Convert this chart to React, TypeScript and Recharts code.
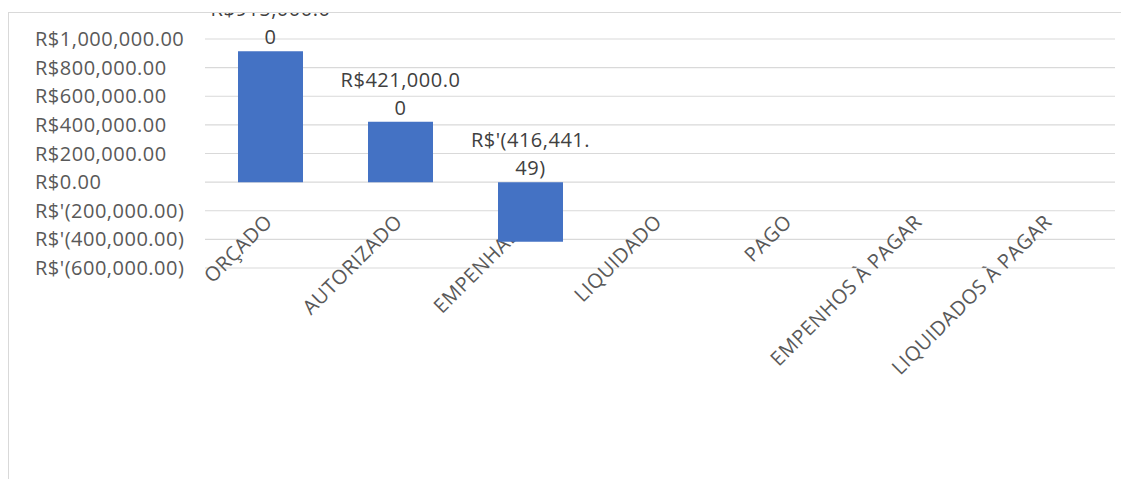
import React from 'react';
import { BarChart, Bar, XAxis, YAxis, CartesianGrid, LabelList } from 'recharts';

const categories = ['ORÇADO', 'AUTORIZADO', 'EMPENHADO', 'LIQUIDADO', 'PAGO', 'EMPENHOS À PAGAR', 'LIQUIDADOS À PAGAR'];
const values: (number | null)[] = [915000, 421000, -416441.49, null, null, null, null];
const yTicks = [-600000, -400000, -200000, 0, 200000, 400000, 600000, 800000, 1000000];

const data = categories.map((name, i) => ({ name, valor: values[i] }));

const FONT = "'Open Sans', sans-serif";
const FONT_SIZE = 20;
const SPACING = 0.5;
const TEXT_COLOR = '#595959';

// chart geometry (svg coords)
const W = 1120;
const H = 466;
const MARGIN = { top: 26, right: 14, left: 0, bottom: 181 };
const X_AXIS_H = 30;
const Y_AXIS_W = 196;
const Y_LABEL_LEFT = 26;
const PLOT_H = H - MARGIN.top - MARGIN.bottom - X_AXIS_H;
const Y_MIN = yTicks[0];
const Y_MAX = yTicks[yTicks.length - 1];
const ZERO_OFFSET = (PLOT_H * (0 - Y_MIN)) / (Y_MAX - Y_MIN);

const money = (v: number) => {
  const s = Math.abs(v).toLocaleString('en-US', { minimumFractionDigits: 2, maximumFractionDigits: 2 });
  return v < 0 ? `R$'(${s})` : `R$${s}`;
};

let ctx: CanvasRenderingContext2D | null = null;
const measure = (t: string) => {
  if (!ctx) {
    ctx = document.createElement('canvas').getContext('2d');
  }
  if (!ctx) return t.length * 11;
  ctx.font = `${FONT_SIZE}px 'Open Sans'`;
  return ctx.measureText(t).width + t.length * SPACING;
};

// Excel-like wrap: break anywhere when the line gets too wide
const wrap = (t: string, maxW: number) => {
  const lines: string[] = [];
  let cur = '';
  for (const ch of t) {
    if (cur && measure(cur + ch) > maxW) {
      lines.push(cur);
      cur = ch;
    } else {
      cur += ch;
    }
  }
  if (cur) lines.push(cur);
  return lines;
};

const ValueLabel = (props: any) => {
  const { x, y, width, height, value } = props;
  if (value === null || value === undefined) return null;
  const top = Math.min(Number(y), Number(y) + Number(height));
  const lines = wrap(money(Number(value)), 125);
  const cx = Number(x) + Number(width) / 2;
  const lineH = 28;
  return (
    <text fontFamily={FONT} fontSize={FONT_SIZE} fill="#404040" textAnchor="middle" letterSpacing={SPACING}>
      {lines.map((l, i) => (
        <tspan key={i} x={cx} y={top - 14 - (lines.length - 1 - i) * lineH + 7}>
          {l}
        </tspan>
      ))}
    </text>
  );
};

// rotated category name, anchored just under the zero line
const CategoryText = ({ cx, zeroY, label }: { cx: number; zeroY: number; label: string }) => {
  const px = cx + 3;
  const py = zeroY + 41;
  return (
    <text
      x={px}
      y={py}
      transform={`rotate(-45, ${px}, ${py})`}
      textAnchor="end"
      fontFamily={FONT}
      fontSize={FONT_SIZE}
      letterSpacing={SPACING}
      fill={TEXT_COLOR}
    >
      {label}
    </text>
  );
};

const hasValue = (name: string) => {
  const v = values[categories.indexOf(name)];
  return v !== null && v !== undefined;
};

// axis tick: only for categories without a bar (others are drawn under the bars)
const CategoryTick = (props: any) => {
  const { x, y, payload } = props;
  if (hasValue(payload.value)) return null;
  return <CategoryText cx={x} zeroY={y - ZERO_OFFSET} label={payload.value} />;
};

// bar background layer sits under the bars, so the bar hides the label like in Excel
const CategoryUnderBar = (props: any) => {
  const { x, y, width, height, index } = props;
  const name = props.payload?.name ?? categories[index];
  if (!name || !hasValue(name)) return null;
  return <CategoryText cx={x + width / 2} zeroY={y + height - ZERO_OFFSET} label={name} />;
};

// value axis labels are left aligned in the original
const ValueTick = (props: any) => {
  const { y, payload } = props;
  return (
    <text
      x={Y_LABEL_LEFT}
      y={y + 7}
      textAnchor="start"
      fontFamily={FONT}
      fontSize={FONT_SIZE}
      letterSpacing={SPACING}
      fill={TEXT_COLOR}
    >
      {money(payload.value)}
    </text>
  );
};

export default function App() {
  return (
    <div style={{ paddingTop: 4 }}>
      <div
        style={{
          width: W,
          height: H,
          borderLeft: '1px solid #d9d9d9',
          borderTop: '1px solid #d9d9d9',
          overflow: 'hidden',
          background: '#fff',
        }}
      >
        <BarChart width={W} height={H} data={data} margin={MARGIN} barSize={65}>
          <CartesianGrid vertical={false} stroke="#d9d9d9" strokeWidth={1.2} />
          <XAxis
            dataKey="name"
            axisLine={false}
            tickLine={false}
            interval={0}
            height={X_AXIS_H}
            tickSize={0}
            tickMargin={0}
            tick={<CategoryTick />}
          />
          <YAxis
            domain={[Y_MIN, Y_MAX]}
            ticks={yTicks}
            interval={0}
            width={Y_AXIS_W}
            axisLine={false}
            tickLine={false}
            tickSize={0}
            tickMargin={15}
            tick={<ValueTick />}
          />
          <Bar dataKey="valor" fill="#4472C4" isAnimationActive={false} background={<CategoryUnderBar />}>
            <LabelList dataKey="valor" content={<ValueLabel />} />
          </Bar>
        </BarChart>
      </div>
    </div>
  );
}
